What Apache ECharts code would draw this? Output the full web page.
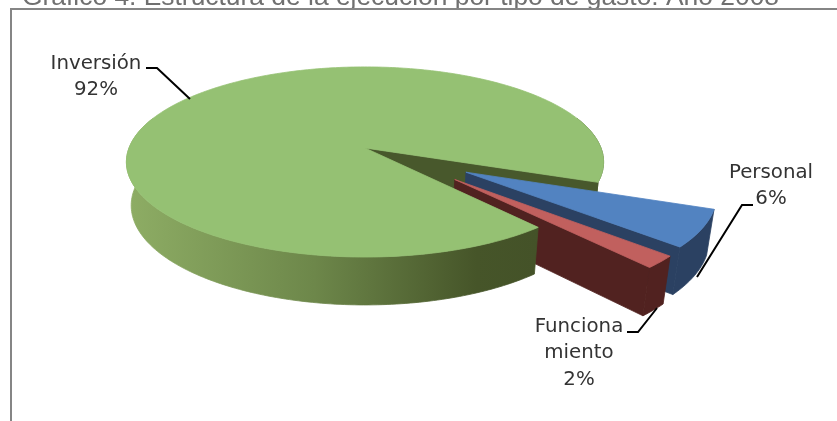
<!DOCTYPE html>
<html>
<head>
<meta charset="utf-8">
<style>html,body{margin:0;padding:0;background:#fff}#c{width:837px;height:421px}</style>
<script src="https://cdn.jsdelivr.net/npm/echarts@6/dist/echarts.min.js"></script>
</head>
<body>
<div id="c"></div>
<script>
// Data, clockwise from the gap edge
const categories = ['Personal', 'Funciona\nmiento', 'Inversión'];
const values = [6, 2, 92];
const titleText = 'Gráfico 4. Estructura de la ejecución por tipo de gasto. Año 2008';

// Projection of the tilted 3D disc
const view = { cx: 365, cy: 148, b: 236, a: 93, k: 0.147, m: 0.02, h: 44, startDeg: 20.5 };
// Slice explosion: distance and direction tweak, per slice
const explode = [{ d: 0.482, adj: 0 }, { d: 0.485, adj: -4 }, { d: 0, adj: 0 }];
const skins = [
  { top: '#5283c1', wall: '#2b4162' },
  { top: '#c1605e', wall: '#512220' },
  { top: '#95c173', wall: '#48582c' }
];
const labelAt = [[771, 186], [579, 353], [96, 77]];

const rad = d => d * Math.PI / 180;
function project(u, v, bottom) {
  const s = 1 / (1 - view.k * v + (bottom ? view.m : 0));
  return [view.cx + view.b * u * s, view.cy + (view.a * v + (bottom ? view.h : 0)) * s];
}
function sliceSpan(i) {
  let a = view.startDeg;
  for (let j = 0; j < i; j++) a += values[j] * 3.6;
  return [a, a + values[i] * 3.6];
}
function sliceCentre(i) {
  const [a0, a1] = sliceSpan(i);
  const mid = rad((a0 + a1) / 2 + explode[i].adj);
  return [explode[i].d * Math.cos(mid), explode[i].d * Math.sin(mid)];
}
function rim(c, d) { return [c[0] + Math.cos(rad(d)), c[1] + Math.sin(rad(d))]; }
function arcPts(c, a0, a1, bottom) {
  const pts = [], n = Math.max(2, Math.ceil(Math.abs(a1 - a0)));
  for (let t = 0; t <= n; t++) {
    const p = rim(c, a0 + (a1 - a0) * t / n);
    pts.push(project(p[0], p[1], bottom));
  }
  return pts;
}
function poly(points, fill) {
  return { type: 'polygon', shape: { points }, style: { fill, stroke: fill, lineWidth: 0.8, lineJoin: 'round' } };
}
function outerWall(c, a0, a1, fill) {
  return poly(arcPts(c, a0, a1, false).concat(arcPts(c, a1, a0, true)), fill);
}
function edgeWall(c, d, fill) {
  const p = rim(c, d);
  return poly([project(c[0], c[1], false), project(p[0], p[1], false),
               project(p[0], p[1], true), project(c[0], c[1], true)], fill);
}
function topFace(c, a0, a1, fill) {
  return poly([project(c[0], c[1], false)].concat(arcPts(c, a0, a1, false)), fill);
}
const frontGradient = new echarts.graphic.LinearGradient(132, 0, 537, 0, [
  { offset: 0, color: '#8dac64' },
  { offset: 0.45, color: '#6d874a' },
  { offset: 0.85, color: '#465529' },
  { offset: 1, color: '#445228' }
], true);

// Back part of the big slice: the wall seen through the gap
function renderBack(params) {
  const i = params.dataIndex + 2;
  const c = sliceCentre(i);
  const end = sliceSpan(i)[1];
  return { type: 'group', children: [
    outerWall(c, end - 40, end, '#4f6331'),
    edgeWall(c, end, skins[i].wall)
  ]};
}
function renderSlice(params) {
  const i = params.dataIndex;
  const c = sliceCentre(i);
  const [a0, a1] = sliceSpan(i);
  const s = skins[i];
  const children = i === 2
    ? [outerWall(c, a0, a0 + 150, frontGradient)]
    : [outerWall(c, a0, a1, s.wall), edgeWall(c, a1, s.wall)];
  children.push(topFace(c, a0, a1, s.top));
  return { type: 'group', children };
}
function renderLabel(params) {
  const i = params.dataIndex;
  return { type: 'text', x: labelAt[i][0], y: labelAt[i][1], style: {
    text: categories[i] + '\n' + values[i] + '%',
    fill: '#333333', font: '19.8px "DejaVu Sans"', lineHeight: 26.5, align: 'center', verticalAlign: 'middle'
  }};
}

const leaderLines = [
  [[146, 68], [157, 68], [190, 99]],
  [[753, 205], [742, 205], [697, 277]],
  [[627, 332], [638, 332], [657, 308]]
];

const chart = echarts.init(document.getElementById('c'), null, { renderer: 'canvas' });
chart.setOption({
  animation: false,
  backgroundColor: '#ffffff',
  series: [
    { type: 'custom', coordinateSystem: 'none', silent: true, z: 1, data: [values[2]], renderItem: renderBack },
    { type: 'custom', coordinateSystem: 'none', silent: true, z: 2, data: values, renderItem: renderSlice },
    { type: 'custom', coordinateSystem: 'none', silent: true, z: 4, data: values, renderItem: renderLabel }
  ],
  graphic: [
    { type: 'text', x: 22, y: -15, z: 5, style: { text: titleText, fill: '#707070', font: '26.4px "Liberation Sans"' } },
    { type: 'polyline', z: 5, shape: { points: [[11, 421], [11, 9], [837, 9]] }, style: { stroke: '#858585', lineWidth: 2, fill: null } }
  ].concat(leaderLines.map(points => ({
    type: 'polyline', z: 5, shape: { points }, style: { stroke: '#000', lineWidth: 2, fill: null }
  })))
});
</script>
</body>
</html>
